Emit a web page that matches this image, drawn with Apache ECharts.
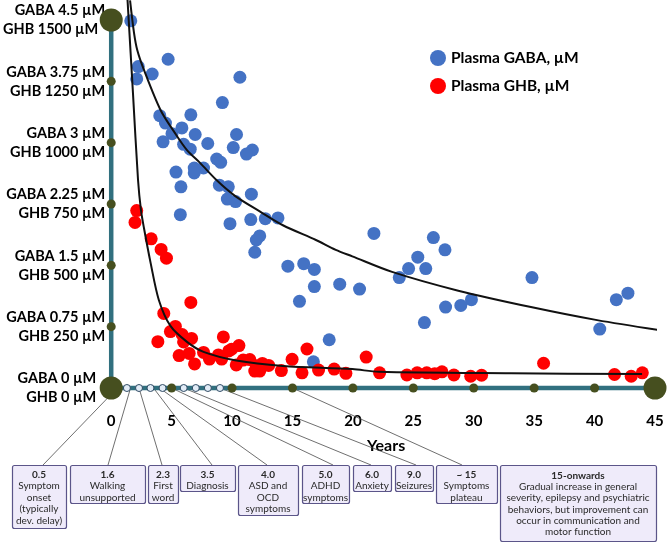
<!DOCTYPE html>
<html><head><meta charset="utf-8">
<script src="https://cdn.jsdelivr.net/npm/echarts@6/dist/echarts.min.js"></script>
<style>html,body{margin:0;padding:0;background:#fff}#c{width:669px;height:542px}</style>
</head><body><div id="c"></div>
<script>
// ---- data ----
const gabaTicks = [0, 0.75, 1.5, 2.25, 3, 3.75, 4.5];
const ghbTicks = [0, 250, 500, 750, 1000, 1250, 1500];
const yearTicks = [0, 5, 10, 15, 20, 25, 30, 35, 40, 45];

const gabaPoints = [[1.62,4.49],[4.71,4.02],[2.24,3.93],[3.39,3.84],[2.11,3.78],[10.65,3.80],[9.20,3.49],[6.59,3.34],[4.02,3.33],[4.49,3.24],[5.85,3.18],[10.37,3.10],[6.95,3.10],[5.03,3.11],[4.29,3.01],[5.99,2.98],[7.99,2.99],[10.10,2.94],[6.54,2.92],[11.68,2.91],[11.19,2.86],[8.73,2.80],[9.06,2.76],[6.87,2.69],[7.64,2.69],[5.36,2.64],[6.87,2.63],[5.77,2.46],[8.95,2.48],[9.69,2.46],[11.60,2.37],[9.61,2.31],[10.29,2.28],[5.72,2.12],[9.83,2.01],[11.55,2.06],[12.75,2.07],[13.80,2.08],[12.29,1.86],[12.01,1.81],[11.88,1.66],[14.62,1.49],[15.93,1.52],[16.81,1.45],[16.81,1.24],[15.58,1.06],[18.91,1.27],[18.04,0.59],[16.73,0.32],[21.74,1.89],[26.66,1.84],[27.62,1.69],[25.37,1.60],[24.61,1.46],[26.03,1.46],[23.84,1.35],[20.55,1.21],[25.92,0.80],[27.67,0.99],[28.93,1.01],[29.81,1.08],[34.82,1.35],[40.43,0.72],[41.80,1.08],[42.76,1.16]];

const ghbPoints = [[2.11,723],[1.97,675],[3.31,608],[4.13,565],[4.57,529],[6.59,349],[4.35,304],[5.31,251],[4.90,230],[5.87,218],[6.65,202],[3.86,189],[5.99,188],[9.28,208],[5.62,132],[6.45,141],[6.90,98],[7.64,145],[8.13,118],[8.87,135],[9.14,118],[9.73,151],[9.96,158],[10.57,173],[10.35,94],[10.92,114],[11.47,116],[12.01,91],[12.51,100],[11.88,69],[12.29,69],[13.03,92],[14.08,71],[14.97,117],[16.20,159],[15.79,62],[17.16,73],[18.45,77],[19.42,60],[21.10,126],[22.21,62],[24.47,53],[25.32,62],[26.11,62],[26.77,58],[27.37,66],[28.36,53],[29.75,48],[30.65,52],[35.78,101],[41.65,55],[43.03,48],[43.95,62]];

const gabaFit = [[1.56,4.74],[1.89,4.34],[2.16,4.13],[2.71,3.89],[4.08,3.40],[5.31,3.11],[6.27,2.91],[7.37,2.75],[8.73,2.54],[10.24,2.35],[12.29,2.16],[14.21,1.99],[16.94,1.81],[18.58,1.69],[19.95,1.61],[23.24,1.42],[28.72,1.19],[34.73,0.99],[40.21,0.83],[46.15,0.69]];

const ghbFit = [[1.35,1582],[1.81,1194],[2.22,848],[2.46,726],[2.71,652],[3.26,510],[3.94,359],[4.90,253],[6.27,188],[7.64,147],[10.35,112],[14.21,90],[19.95,77],[22.15,66],[33.09,60],[43.93,57]];

const yearMarkers = [1.3, 2.3, 3.25, 4.25, 6, 7, 8, 9];
const milestoneYears = [0.5, 1.6, 2.3, 3.5, 4.0, 5.0, 6.0, 9.0, 15];
const milestoneNotes = [
  ['0.5','Symptom','onset','(typically','dev. delay)'],
  ['1.6','Walking','unsupported'],
  ['2.3','First','word'],
  ['3.5','Diagnosis'],
  ['4.0','ASD and','OCD','symptoms'],
  ['5.0','ADHD','symptoms'],
  ['6.0','Anxiety'],
  ['9.0','Seizures'],
  ['~ 15','Symptoms','plateau'],
  ['15-onwards','Gradual increase in general','severity, epilepsy and psychiatric','behaviors, but improvement can','occur in communication and','motor function']
];

// ---- layout / style ----
const boxLayout = [
  {left:12, top:465, w:54, h:63, lx:43},
  {left:70, top:465, w:75, h:38, lx:108},
  {left:148, top:465, w:30, h:38, lx:162},
  {left:180, top:465, w:55, h:26, lx:212},
  {left:238, top:465, w:60, h:50, lx:267},
  {left:302, top:465, w:47, h:38, lx:333},
  {left:353, top:465, w:38, h:26, lx:371},
  {left:395, top:465, w:38, h:26, lx:416},
  {left:436, top:465, w:61, h:38, lx:462},
  {left:500, top:465, w:156, h:76, lh:11.3, pad:5}
];
const TEAL = '#31707f', OLIVE = '#464f1f', INK = '#000';

const chart = echarts.init(document.getElementById('c'));
const lab = {fontSize:14.5, fontWeight:'bold', fontFamily:'Lato', color:INK, lineHeight:19, align:'right'};
const labelRich = {
  a:Object.assign({}, lab),
  t:Object.assign({padding:[0,7,0,0]}, lab),
  z:Object.assign({padding:[0,9,0,0]}, lab)
};
const option = {
  animation:false,
  textStyle:{fontFamily:'Lato'},
  grid:{left:107, right:14, top:20, bottom:154},
  legend:{
    data:['Plasma GABA, µM','Plasma GHB, µM'],
    orient:'vertical', left:425, top:45, itemWidth:16, itemHeight:16, itemGap:12,
    icon:'circle', textStyle:{fontSize:15.5, fontWeight:'bold', fontFamily:'Lato', color:INK}
  },
  xAxis:{
    type:'value', min:0, max:45, interval:5,
    axisLine:{show:false}, axisTick:{show:false}, splitLine:{show:false},
    axisLabel:{fontSize:15, fontWeight:'bold', fontFamily:'Lato', color:INK, margin:26},
    name:'Years', nameLocation:'middle', nameGap:50,
    nameTextStyle:{fontSize:16, fontWeight:'bold', fontFamily:'Lato', color:INK, padding:[0,0,0,6]}
  },
  yAxis:[{
    type:'value', min:0, max:4.5, interval:0.75,
    axisLine:{show:false}, axisTick:{show:false}, splitLine:{show:false},
    axisLabel:{margin:6, rich:labelRich, formatter:function(v){
      const i = gabaTicks.findIndex(t=>Math.abs(t-v)<1e-6);
      if(i<0) return '';
      const s1 = i===0 ? 'z' : 'a';
      const s2 = i===0 ? 'z' : (i===gabaTicks.length-1 ? 't' : 'a');
      return '{'+s1+'|GABA '+gabaTicks[i]+' µM}\n{'+s2+'|GHB '+ghbTicks[i]+' µM}';
    }}
  },{
    type:'value', min:0, max:1500, interval:250, show:false
  }],
  series:[
    {type:'line', data:[[0,0],[45,0]], symbol:'none', silent:true, clip:false, z:3,
      lineStyle:{color:TEAL, width:4.5}},
    {type:'line', data:[[0,0],[0,4.5]], symbol:'none', silent:true, clip:false, z:3,
      lineStyle:{color:TEAL, width:4.5}},
    {type:'scatter', silent:true, clip:false, z:4, symbolSize:9, itemStyle:{color:OLIVE, opacity:1},
      data: yearTicks.slice(1,-1).map(t=>[t,0]).concat(gabaTicks.slice(1,-1).map(t=>[0,t]))},
    {type:'scatter', silent:true, clip:false, z:4, symbolSize:7,
      itemStyle:{color:'#e2ecf7', borderColor:'#2f4a63', borderWidth:1, opacity:1},
      data: yearMarkers.map(t=>[t,0])},
    {type:'scatter', silent:true, clip:false, z:4, symbolSize:23, itemStyle:{color:OLIVE, opacity:1},
      data:[[0,0],[0,4.5],[45,0]]},
    {name:'Plasma GABA, µM', type:'scatter', data:gabaPoints, symbolSize:13, z:5,
      itemStyle:{color:'#4472C4', opacity:1}},
    {name:'Plasma GHB, µM', type:'scatter', yAxisIndex:1, data:ghbPoints, symbolSize:13, z:5,
      itemStyle:{color:'#FF0000', opacity:1}},
    {type:'line', data:gabaFit, symbol:'none', smooth:0.3, clip:false, z:6, silent:true,
      lineStyle:{color:'#111', width:2}},
    {type:'line', yAxisIndex:1, data:ghbFit, symbol:'none', smooth:0.3, clip:false, z:6, silent:true,
      lineStyle:{color:'#111', width:2}}
  ]
};
chart.setOption(option);

const g = [];
milestoneYears.forEach((yr,i)=>{
  const p = chart.convertToPixel({xAxisIndex:0, yAxisIndex:0}, [yr,0]);
  const b = boxLayout[i];
  g.push({type:'line', z:1, silent:true,
    shape:{x1:p[0], y1:p[1], x2:b.lx, y2:b.top},
    style:{stroke:'#4a4a4a', lineWidth:0.8}});
});
boxLayout.forEach((b,i)=>{
  const lines = milestoneNotes[i];
  const lh = b.lh || 11.5, pad = b.pad || 4;
  g.push({type:'rect', z:1, silent:true,
    shape:{x:b.left+0.5, y:b.top+0.5, width:b.w, height:b.h, r:2},
    style:{fill:'#efebfa', stroke:'#5b5589', lineWidth:1.2}});
  g.push({type:'text', z:2, silent:true, x:b.left+b.w/2, y:b.top+pad,
    style:{text:'{h|'+lines[0]+'}\n'+lines.slice(1).join('\n'),
      align:'center', verticalAlign:'top', fontSize:10, fontFamily:'Lato',
      fill:'#2a2a2a', lineHeight:lh,
      rich:{h:{fontSize:10, fontWeight:'bold', fontFamily:'Lato', fill:'#2a2a2a', lineHeight:lh}}}});
});
chart.setOption({graphic:g});
</script></body></html>
